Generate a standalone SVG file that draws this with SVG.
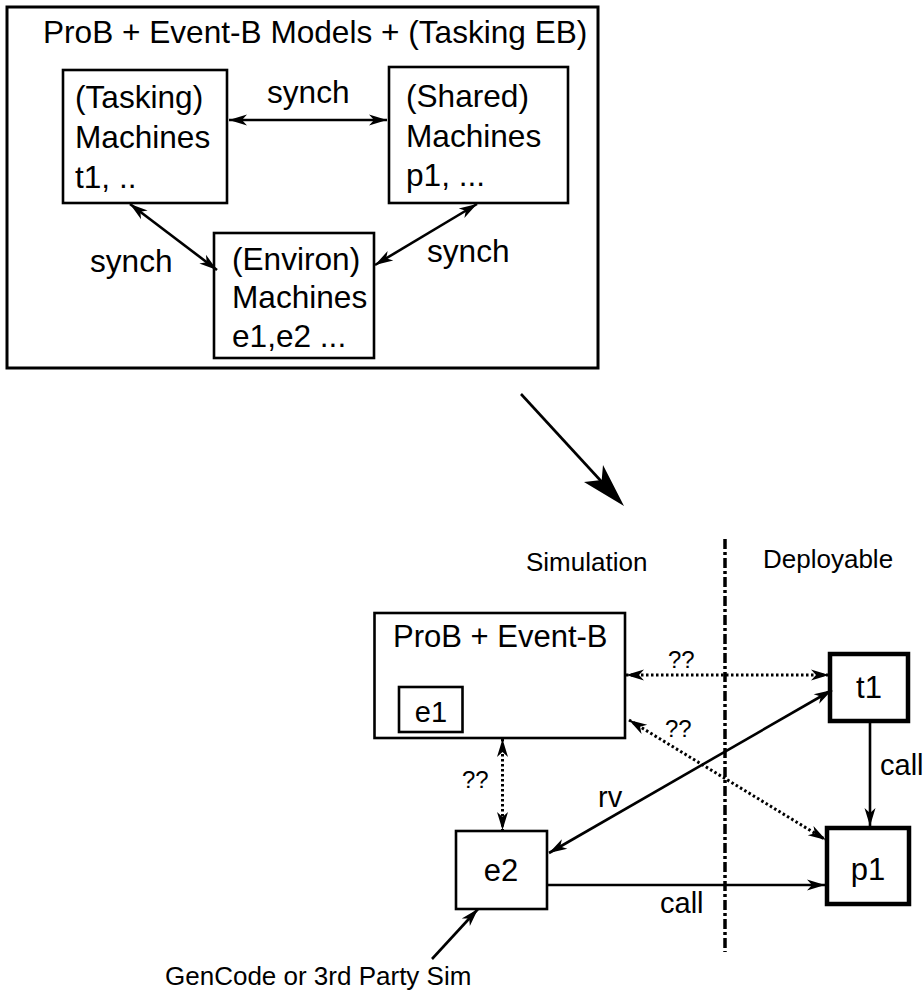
<svg xmlns="http://www.w3.org/2000/svg" width="924" height="992" viewBox="0 0 924 992">
<style>
text{font-family:"Liberation Sans",Arial,sans-serif;fill:#000}
.t31{font-size:31px}
.t32{font-size:31.6px}
.t26{font-size:26px}
.t29{font-size:29px}
.t24{font-size:24px}
.box{fill:#fff;stroke:#000;stroke-width:2.6}
.thick{fill:#fff;stroke:#000;stroke-width:4.5}
.ln{fill:none;stroke:#000;stroke-width:2.6}
.dot{fill:none;stroke:#000;stroke-width:3;stroke-dasharray:2.5 2.5}
.mid{text-anchor:middle}
</style>
<defs>
<marker id="ah" viewBox="-20 -8 22 16" refX="0" refY="0" markerWidth="22" markerHeight="16" markerUnits="userSpaceOnUse" orient="auto-start-reverse">
<path d="M0,0 L-18,-5.5 L-13,0 L-18,5.5 Z" fill="#000"/>
</marker>
</defs>
<rect width="924" height="992" fill="#fff"/>

<g id="top-frame">
<rect x="7" y="7" width="591" height="361" fill="#fff" stroke="#000" stroke-width="3"/>
<text class="t32" x="43" y="43">ProB + Event-B Models + (Tasking EB)</text>
</g>
<g id="tasking">
<rect class="box" x="63" y="70" width="164" height="133"/>
<text class="t32" x="75" y="108">(Tasking)</text>
<text class="t32" x="75" y="148">Machines</text>
<text class="t32" x="75" y="188">t1, ..</text>
</g>
<g id="shared">
<rect class="box" x="389" y="67" width="179" height="136"/>
<text class="t32" x="406" y="107">(Shared)</text>
<text class="t32" x="406" y="147">Machines</text>
<text class="t32" x="406" y="186">p1, ...</text>
</g>
<g id="environ">
<rect class="box" x="214" y="233" width="160" height="125"/>
<text class="t32" x="232" y="270">(Environ)</text>
<text class="t32" x="232" y="308">Machines</text>
<text class="t32" x="232" y="347">e1,e2 ...</text>
</g>

<g id="prob">
<rect class="box" x="374.5" y="613" width="250.5" height="125"/>
<text class="t31" x="393" y="647">ProB + Event-B</text>
</g>
<g id="e1">
<rect class="box" x="399" y="687" width="63.5" height="45"/>
<text class="t29 mid" x="431" y="722">e1</text>
</g>
<g id="t1">
<rect class="thick" x="830" y="654" width="78" height="67"/>
<text class="t31 mid" x="869" y="698">t1</text>
</g>
<g id="e2">
<rect class="box" x="456" y="831" width="91" height="78"/>
<text class="t31 mid" x="501" y="881">e2</text>
</g>
<g id="p1">
<rect class="thick" x="827" y="828" width="82" height="76"/>
<text class="t31 mid" x="868" y="880">p1</text>
</g>

<g id="labels">
<text class="t26" x="526" y="571">Simulation</text>
<text class="t26" x="763" y="568">Deployable</text>
<text class="t26" x="165" y="985">GenCode or 3rd Party Sim</text>
</g>

<g id="connectors">
<line class="ln" x1="229" y1="120" x2="387" y2="120" marker-start="url(#ah)" marker-end="url(#ah)"/>
<text class="t32" x="267" y="103">synch</text>
<line class="ln" x1="130" y1="204" x2="217" y2="270" marker-start="url(#ah)" marker-end="url(#ah)"/>
<text class="t32" x="90" y="272">synch</text>
<line class="ln" x1="477" y1="204" x2="375" y2="265" marker-start="url(#ah)" marker-end="url(#ah)"/>
<text class="t32" x="427" y="262">synch</text>

<line class="ln" x1="521" y1="394" x2="612" y2="493"/>
<path d="M624,506 L584,482 L601.7,480 L603,465 Z" fill="#000"/>

<line x1="725" y1="539" x2="725" y2="952" stroke="#000" stroke-width="3.5" stroke-dasharray="10 3 3 3"/>

<line class="dot" x1="626" y1="675" x2="829" y2="675" marker-start="url(#ah)" marker-end="url(#ah)"/>
<text class="t24" x="668" y="668">??</text>
<line class="dot" x1="629" y1="720" x2="826" y2="840" marker-start="url(#ah)" marker-end="url(#ah)"/>
<text class="t24" x="665" y="737">??</text>
<line class="dot" x1="502.5" y1="739" x2="502.5" y2="830" marker-start="url(#ah)" marker-end="url(#ah)"/>
<text class="t24" x="462" y="788">??</text>

<line class="ln" x1="832" y1="690" x2="549" y2="853" marker-start="url(#ah)" marker-end="url(#ah)"/>
<text class="t29" x="598" y="807">rv</text>
<line class="ln" x1="548" y1="885" x2="825" y2="885" marker-end="url(#ah)"/>
<text class="t29" x="660" y="913">call</text>
<line class="ln" x1="870" y1="721" x2="870" y2="826" marker-end="url(#ah)"/>
<text class="t29" x="880" y="775">call</text>
<line class="ln" x1="432" y1="959" x2="478" y2="909" marker-end="url(#ah)"/>
</g>
</svg>
